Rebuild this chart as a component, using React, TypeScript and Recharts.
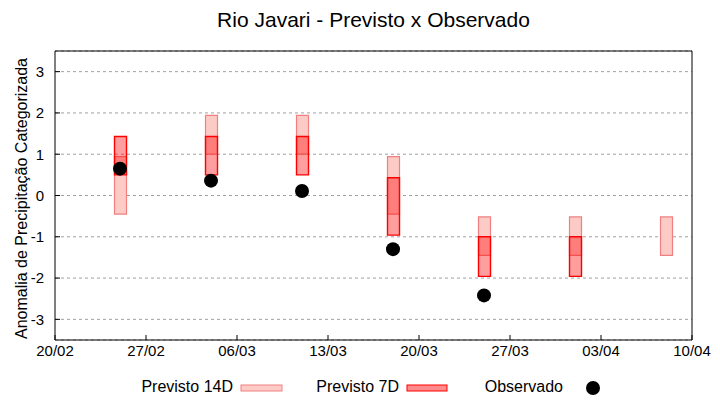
import React from 'react';
import { ComposedChart, Bar, Scatter, XAxis, YAxis, CartesianGrid, Legend } from 'recharts';

// Day offsets counted from 20/02
const dayTicks = [0, 7, 14, 21, 28, 35, 42, 49];
const dayTickLabels = ['20/02', '27/02', '06/03', '13/03', '20/03', '27/03', '03/04', '10/04'];
const yTicks = [-3, -2, -1, 0, 1, 2, 3];

const forecastDays = [5, 12, 19, 26, 33, 40, 47];
const prev14Low = [-0.45, 1.0, 1.0, -0.45, -1.45, -1.45, -1.45];
const prev14High = [0.94, 1.94, 1.94, 0.94, -0.52, -0.52, -0.52];
const prev7Low = [0.5, 0.5, 0.5, -0.96, -1.96, -1.96, null];
const prev7High = [1.43, 1.43, 1.43, 0.43, -1.0, -1.0, null];
const observed = [0.65, 0.36, 0.11, -1.3, -2.42, null, null];

const fontFamily = '"Liberation Sans", Arial, sans-serif';
const c14Fill = '#fccbc6';
const c14Stroke = '#f08080';
const c7Fill = 'rgba(255,0,0,0.38)';
const c7Stroke = '#ff0000';

const tableData = forecastDays.map((day, i) => ({
  day,
  p14: [prev14Low[i], prev14High[i]],
  p7: prev7Low[i] == null ? null : [prev7Low[i], prev7High[i]],
}));

const obsData = forecastDays
  .map((day, i) => ({ day, obs: observed[i] }))
  .filter((d) => d.obs != null);

const YLabel = ({ viewBox }: any) => {
  const cx = viewBox.x + 21;
  const cy = viewBox.y + viewBox.height / 2 + 3;
  return (
    <text
      x={cx}
      y={cy}
      transform={`rotate(-90 ${cx} ${cy})`}
      textAnchor="middle"
      dominantBaseline="central"
      fontSize={16}
      fill="#000"
      fontFamily={fontFamily}
    >
      Anomalia de Precipitação Categorizada
    </text>
  );
};

const LegendContent = () => (
  <svg width={720} height={30} style={{ display: 'block', fontFamily }}>
    <text x={233} y={22} textAnchor="end" fontSize={16} fill="#000">Previsto 14D</text>
    <rect x={241} y={15} width={41} height={6} fill={c14Fill} stroke={c14Stroke} />
    <text x={399} y={22} textAnchor="end" fontSize={16} fill="#000">Previsto 7D</text>
    <rect x={407} y={15} width={40} height={6} fill="rgba(255,0,0,0.45)" stroke={c7Stroke} />
    <text x={563} y={22} textAnchor="end" fontSize={16} fill="#000">Observado</text>
    <circle cx={593} cy={18} r={7} fill="#000" />
  </svg>
);

export default function App() {
  return (
    <div style={{ position: 'absolute', left: 0, top: 0, width: 720, height: 400, fontFamily, background: '#fff' }}>
      <div
        style={{
          position: 'absolute', left: 55, top: 9, width: 637, textAlign: 'center',
          fontSize: 21, lineHeight: '21px', color: '#000',
        }}
      >
        Rio Javari - Previsto x Observado
      </div>
      <ComposedChart
        width={720}
        height={400}
        data={tableData}
        margin={{ top: 50, right: 27, bottom: 0, left: 0 }}
      >
        <CartesianGrid vertical={false} stroke="#a0a0a0" strokeDasharray="3 3" />
        <XAxis
          dataKey="day"
          type="number"
          domain={[0, 49]}
          ticks={dayTicks}
          interval={0}
          tickFormatter={(v) => dayTickLabels[dayTicks.indexOf(v)]}
          height={30}
          stroke="#000"
          tickSize={-5}
          tickMargin={10}
          tick={{ fill: '#000', fontSize: 15 }}
        />
        <XAxis
          xAxisId="top"
          orientation="top"
          dataKey="day"
          type="number"
          domain={[0, 49]}
          ticks={dayTicks}
          interval={0}
          height={1}
          stroke="#000"
          tickSize={-5}
          tick={false}
        />
        <YAxis
          type="number"
          domain={[-3.5, 3.5]}
          ticks={yTicks}
          interval={0}
          width={55}
          stroke="#000"
          tickSize={-5}
          tickMargin={16}
          tick={{ fill: '#000', fontSize: 15 }}
          label={<YLabel />}
        />
        <YAxis
          yAxisId="right"
          orientation="right"
          type="number"
          domain={[-3.5, 3.5]}
          ticks={yTicks}
          interval={0}
          width={1}
          stroke="#000"
          tickSize={-5}
          tick={false}
        />
        <Legend verticalAlign="bottom" height={30} content={<LegendContent />} wrapperStyle={{ left: 0, width: 720, bottom: 0 }} />
        <Bar dataKey="p14" barSize={12} fill={c14Fill} stroke={c14Stroke} strokeWidth={1.2} isAnimationActive={false} />
        <Bar dataKey="p7" xAxisId="top" barSize={12} fill={c7Fill} stroke={c7Stroke} strokeWidth={1.4} isAnimationActive={false} />
        <Scatter
          data={obsData}
          dataKey="obs"
          fill="#000"
          isAnimationActive={false}
          shape={(p: any) => <circle cx={p.cx} cy={p.cy} r={7} fill="#000" />}
        />
      </ComposedChart>
    </div>
  );
}
